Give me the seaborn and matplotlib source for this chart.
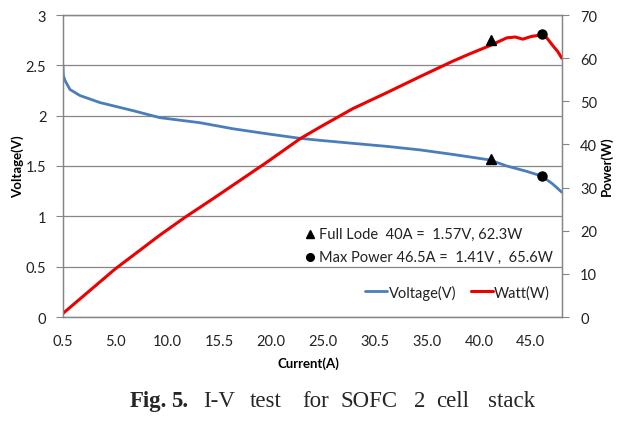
import numpy as np
import pandas as pd
import matplotlib
matplotlib.use("Agg")
import matplotlib.pyplot as plt
from matplotlib.lines import Line2D
import seaborn as sns

# ---------------- data (x = position on the current category axis) ----------------
volt_x = [0.5, 0.53, 0.69, 1.17, 2.13, 4.06, 7.23, 9.83, 13.67, 16.85, 20.12, 23.29,
          25.21, 28.4, 31.65, 34.83, 38.0, 41.56, 43.19, 45.0, 46.56, 47.62, 48.48]
volt_y = [2.50, 2.40, 2.35, 2.26, 2.20, 2.13, 2.05, 1.98, 1.93, 1.87, 1.82, 1.775,
          1.755, 1.725, 1.695, 1.66, 1.615, 1.56, 1.50, 1.45, 1.40, 1.32, 1.24]

watt_x = [0.53, 5.5, 9.83, 12.23, 14.92, 20.12, 23.29, 25.21, 28.38, 31.65, 34.83,
          38.0, 39.63, 41.56, 43.19, 44.0, 44.73, 45.5, 46.56, 47.0, 47.62, 48.1, 48.48]
watt_y = [0.9, 11.1, 19.0, 23.1, 27.4, 35.9, 41.3, 44.0, 48.3, 52.0, 55.7,
          59.3, 61.0, 62.9, 64.7, 64.9, 64.4, 65.0, 65.4, 64.8, 62.9, 61.5, 60.0]

xtick_pos = [0.5, 5.5, 10.5, 15.5, 20.5, 25.5, 30.5, 35.5, 40.5, 45.5]
xtick_labels = ["0.5", "5.0", "10.0", "15.5", "20.0", "25.0", "30.5", "35.0", "40.0", "45.0"]
v_ticks = [0, 0.5, 1, 1.5, 2, 2.5, 3]
v_tick_labels = ["0", "0.5", "1", "1.5", "2", "2.5", "3"]
w_ticks = [0, 10, 20, 30, 40, 50, 60, 70]

full_load = dict(x=41.65, v=1.57, w=64.1)
max_power = dict(x=46.56, v=1.40, w=65.7)

note_full = "Full Lode  40A =  1.57V, 62.3W"
note_max = "Max Power 46.5A =  1.41V ,  65.6W"

df_v = pd.DataFrame({"pos": volt_x, "val": volt_y})
df_w = pd.DataFrame({"pos": watt_x, "val": watt_y})

# ---------------- style ----------------
sns.set_style("white")
plt.rcParams["font.family"] = ["Lato", "DejaVu Sans"]
plt.rcParams["axes.unicode_minus"] = False

BLUE = "#4A7EBB"
RED = "#EE0000"
GRID = "#868686"
TXT = "#222222"

W, H = 633, 431
fig = plt.figure(figsize=(W / 100, H / 100), dpi=100)
fig.patch.set_facecolor("white")
L, R, T, B = 63, 562, 16, 318
ax = fig.add_axes([L / W, 1 - B / H, (R - L) / W, (B - T) / H])
ax2 = ax.twinx()

sns.lineplot(data=df_v, x="pos", y="val", ax=ax, color=BLUE, linewidth=2.0,
             sort=False, estimator=None, legend=False)
sns.lineplot(data=df_w, x="pos", y="val", ax=ax2, color=RED, linewidth=2.2,
             sort=False, estimator=None, legend=False)

# markers
ax.plot([full_load["x"]], [full_load["v"]], marker="^", color="black", ms=7, ls="none", zorder=5)
ax.plot([max_power["x"]], [max_power["v"]], marker="o", color="black", ms=6.5, ls="none", zorder=5)
ax2.plot([full_load["x"]], [full_load["w"]], marker="^", color="black", ms=7, ls="none", zorder=5)
ax2.plot([max_power["x"]], [max_power["w"]], marker="o", color="black", ms=6.5, ls="none", zorder=5)

ax.set_xlim(0.5, 48.5)
ax.set_ylim(0, 3)
ax2.set_ylim(0, 70)

ax.set_yticks(v_ticks)
ax.set_yticklabels(v_tick_labels)
ax2.set_yticks(w_ticks)
ax.set_xticks(xtick_pos)
ax.set_xticklabels(xtick_labels)
ax.set_xticks(np.arange(0.5, 48.6, 1.75), minor=True)

ax.grid(axis="y", color=GRID, linewidth=0.9)
ax.set_axisbelow(True)
ax2.grid(False)

for a in (ax, ax2):
    for s in a.spines.values():
        s.set_color(GRID)
        s.set_linewidth(0.9)
    a.spines["top"].set_visible(True)

ax.tick_params(axis="x", which="major", length=0, pad=12, labelsize=10.5, colors=TXT)
ax.tick_params(axis="x", which="minor", length=5, width=0.8, color=GRID, direction="out")
ax.tick_params(axis="y", length=5, width=0.8, color=GRID, direction="out", labelsize=10.5,
               labelcolor=TXT, pad=7)
ax2.tick_params(axis="y", length=5, width=0.8, color=GRID, direction="out", labelsize=10.5,
                labelcolor=TXT, pad=8)

ax.set_xlabel("")
ax.set_ylabel("")
ax2.set_ylabel("")

fig.text(18 / W, 1 - 167 / H, "Voltage(V)", rotation=90, ha="center", va="center",
         fontsize=9.5, fontweight="bold", color="black")
fig.text(607 / W, 1 - 166 / H, "Power(W)", rotation=90, ha="center", va="center",
         fontsize=9.5, fontweight="bold", color="black")
fig.text(308 / W, 1 - 364 / H, "Current(A)", ha="center", va="center",
         fontsize=9.5, fontweight="bold", color="black")

# annotation text with marker symbols
fig.add_artist(Line2D([310 / W], [1 - 235 / H], marker="^", color="black", ms=6, ls="none",
                      transform=fig.transFigure))
fig.add_artist(Line2D([310 / W], [1 - 258 / H], marker="o", color="black", ms=5.5, ls="none",
                      transform=fig.transFigure))
fig.text(319 / W, 1 - 235 / H, note_full, ha="left", va="center", fontsize=10.5, color=TXT)
fig.text(319 / W, 1 - 258 / H, note_max, ha="left", va="center", fontsize=10.5, color=TXT)

# legend
handles = [Line2D([], [], color=BLUE, lw=2.0), Line2D([], [], color=RED, lw=2.2)]
fig.legend(handles, ["Voltage(V)", "Watt(W)"], loc="center right",
           bbox_to_anchor=(550 / W, 1 - 293 / H), ncol=2, frameon=False,
           fontsize=10.5, handlelength=1.5, handletextpad=0.1, columnspacing=1.0,
           borderaxespad=0, borderpad=0, labelcolor=TXT)

# caption (justified words)
cap_y = 1 - 402 / H
capfam = ["Liberation Serif", "DejaVu Serif"]
fig.text(130 / W, cap_y, "Fig.", ha="left", va="center", fontsize=16.5,
         fontweight="bold", family=capfam)
fig.text(171 / W, cap_y, "5.", ha="left", va="center", fontsize=16.5,
         fontweight="bold", family=capfam)
for word, xl in [("I-V", 203), ("test", 250), ("for", 302), ("SOFC", 340),
                 ("2", 414), ("cell", 436), ("stack", 488)]:
    fig.text(xl / W, cap_y, word, ha="left", va="center", fontsize=16.5, family=capfam)

fig.savefig("out.png", dpi=100, facecolor="white")
